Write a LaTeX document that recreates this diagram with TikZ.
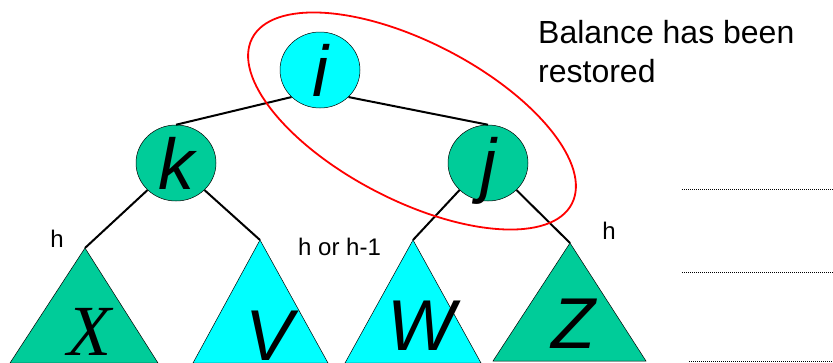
\documentclass[tikz,border=0pt]{standalone}
\usepackage{fontspec}
\setmainfont{Liberation Sans}
\newfontfamily\serifit{Liberation Serif}
\usetikzlibrary{shapes.geometric}
\definecolor{treegreen}{RGB}{0,204,153}
\definecolor{treecyan}{RGB}{0,255,255}
\begin{document}
\begin{tikzpicture}[x=1pt,y=-1pt,
  treenode/.style={ellipse, draw=black, line width=0.5pt, minimum width=80pt,
    minimum height=76pt, inner sep=0pt, text depth=0pt,
    font=\fontsize{72}{72}\selectfont\itshape},
  subtree/.style={draw=black, line width=0.5pt},
  letter/.style={anchor=base, inner sep=0pt, font=\fontsize{72}{72}\selectfont\itshape},
  link/.style={line width=2pt},
  small/.style={anchor=base, inner sep=0pt, font=\fontsize{24}{24}\selectfont},
  note/.style={anchor=base west, inner sep=0pt, font=\fontsize{32}{32}\selectfont},
  guide/.style={line width=1pt, dash pattern=on 1pt off 1pt},
  rotation/.style={draw=red, line width=1.8pt}]
\useasboundingbox (0,0) rectangle (833,362);
\clip (0,0) rectangle (833,362);

% subtree apexes
\coordinate (xa) at (85,248);
\coordinate (va) at (260,240);
\coordinate (wa) at (413,240);
\coordinate (za) at (570,243);

% subtrees
\filldraw[subtree, fill=treegreen] (xa) -- (10,363) -- (158,363) -- cycle;
\filldraw[subtree, fill=treecyan] (va) -- (193,363) -- (328,363) -- cycle;
\filldraw[subtree, fill=treecyan] (wa) -- (345,363) -- (481,363) -- cycle;
\filldraw[subtree, fill=treegreen] (za) -- (493,361) -- (646,361) -- cycle;

\node[letter] (xl) at (89,355) {\serifit X};
\node[letter] (vl) at (270,360) {V};
\node[letter] (wl) at (421,350) {W};
\node[letter] (zl) at (573,348) {Z};

% tree nodes
\node[treenode, fill=treecyan] (i) at (320,70) {i};
\node[treenode, fill=treegreen] (k) at (176,163) {k};
\node[treenode, fill=treegreen] (j) at (488,163) {j};

% edges
\draw[link] (i.south west) -- (k.north);
\draw[link] (i.south east) -- (j.north);
\draw[link] (k.south west) -- (xa);
\draw[link] (k.south east) -- (va);
\draw[link] (j.south west) -- (wa);
\draw[link] (j.south east) -- (za);

% height labels
\node[small] (hx) at (57,247) {h};
\node[small, anchor=base west] (hvw) at (298,255) {h or h-1};
\node[small] (hz) at (609,239) {h};

% caption
\node[note] (bal1) at (538,43) {Balance has been};
\node[note] (bal2) at (538,82) {restored};

% level guides
\draw[guide] (682,189) -- (833,189);
\draw[guide] (682,272) -- (833,272);
\draw[guide] (689,361) -- (833,361);

% rotated pair
\draw[rotation] (412,121) ellipse [x radius=180pt, y radius=79pt, rotate=-27.4];
\end{tikzpicture}
\end{document}
